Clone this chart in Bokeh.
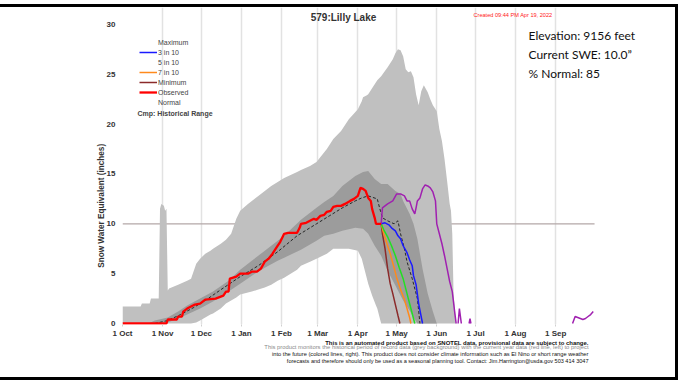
from bokeh.plotting import figure
from bokeh.layouts import column
from bokeh.models import (FixedTicker, Label, Legend, LegendItem, Range1d, Title)
from bokeh.embed import file_html
from bokeh.resources import INLINE

NaN = float("nan")

# ---- axes ----
month_days = [0, 31, 61, 92, 123, 151, 182, 212, 243, 273, 304, 335]
month_labels = ["1 Oct", "1 Nov", "1 Dec", "1 Jan", "1 Feb", "1 Mar", "1 Apr",
                "1 May", "1 Jun", "1 Jul", "1 Aug", "1 Sep"]
y_ticks = [0, 5, 10, 15, 20, 25, 30]
season_days = [0, 365]
current_swe = 10.0

# ---- period of record envelope (light grey) ----
rec_days = [0, 14, 15, 21, 22, 28, 29, 30, 32, 33,
            34, 35, 36, 43, 50, 53, 57, 60, 64, 68,
            70, 76, 80, 84, 88, 91, 97, 100, 105, 110,
            115, 120, 125, 130, 135, 138, 145, 150, 158, 163,
            169, 175, 182, 185, 186, 189, 190, 193, 196, 197,
            200, 205, 209, 211, 213, 215, 217, 219, 221, 223,
            225, 227, 229, 231, 233, 236, 238, 240, 243, 245,
            247, 249, 251, 253, 254, 255, 256, 258]
rec_max = [1.7, 1.7, 2.0, 2.0, 2.5, 2.5, 11.5, 12.0, 11.8, 11.3,
           11.5, 3.3, 3.5, 3.9, 4.3, 4.5, 6.0, 6.5, 7.0, 7.3,
           7.5, 8.0, 8.4, 9.0, 10.5, 11.3, 12.0, 12.3, 12.8, 13.3,
           13.8, 14.2, 14.6, 14.9, 15.2, 15.4, 15.8, 16.2, 17.5, 18.5,
           19.3, 20.5, 21.5, 22.3, 22.7, 22.9, 23.0, 23.6, 24.2, 24.4,
           24.8, 25.7, 26.5, 27.1, 27.5, 27.4, 26.8, 25.5, 25.2, 25.3,
           24.7, 23.0, 21.9, 23.3, 23.9, 23.2, 22.5, 21.9, 21.3, 19.5,
           18.3, 16.5, 14.3, 12.0, 11.3, 9.0, 2.9, 0.0]
rec_min = [0, 0, 0, 0, 0, 0, 0, 0, 0, 0,
           0, 0, 0, 0, 0, 0, 0.1, 0.3, 0.6, 0.9,
           1.0, 1.5, 2.0, 2.3, 2.6, 2.9, 3.1, 3.2, 3.4, 3.6,
           3.9, 4.3, 4.6, 5.0, 5.4, 5.8, 6.2, 6.5, 7.0, 7.5,
           7.5, 7.5, 7.3, 6.5, 6.0, 4.5, 4.0, 2.8, 1.8, 1.5,
           0, 0, 0, 0, 0, 0, 0, 0, 0, 0,
           0, 0, 0, 0, 0, 0, 0, 0, 0, 0,
           0, 0, 0, 0, 0, 0, 0, 0]

# ---- inner percentile band (dark grey) ----
band_days = [20, 25, 35, 43, 50, 60, 70, 82, 91, 100,
             110, 120, 125, 138, 150, 156, 163, 170, 180, 186,
             190, 195, 200, 205, 211, 215, 217, 222, 225, 228,
             232, 236, 240, 243]
band_lo = [0, 0, 0.1, 0.5, 0.9, 1.5, 2.2, 3.2, 4.0, 4.8,
           5.6, 6.3, 6.6, 7.4, 8.3, 8.8, 9.0, 9.3, 9.6, 9.5,
           9.0, 7.8, 6.8, 5.3, 3.8, 2.8, 2.3, 1.3, 0.6, 0,
           0, 0, 0, 0]
band_hi = [0, 0.3, 0.6, 1.2, 1.8, 2.5, 3.2, 4.3, 5.4, 6.3,
           7.3, 8.3, 8.8, 10.4, 11.6, 12.2, 12.8, 13.8, 14.8, 15.2,
           15.3, 14.5, 14.0, 14.0, 13.3, 13.0, 12.3, 11.0, 10.0, 8.5,
           5.5, 3.0, 1.2, 0]

# ---- normal (median) ----
med_days = [25, 35, 45, 55, 65, 75, 91, 105, 120, 135,
            150, 160, 170, 180, 185, 190, 197, 199, 201, 205,
            210, 213, 215, 218, 220, 224, 228, 230]
med_vals = [0, 0.3, 0.9, 1.6, 2.4, 3.3, 4.7, 5.8, 7.2, 8.8,
            10.0, 10.8, 11.6, 12.3, 12.6, 12.8, 12.5, 11.5, 10.6, 10.3,
            10.0, 10.3, 9.0, 7.5, 6.2, 4.5, 2.5, 0]

# ---- observed ----
obs_days = [0, 34, 35, 42, 43, 46, 47, 50, 56, 60,
            64, 72, 78, 80, 82, 83, 88, 91, 97, 100,
            104, 107, 110, 113, 116, 119, 122, 125, 128, 135,
            137, 138, 142, 145, 148, 150, 153, 156, 158, 161,
            163, 166, 169, 172, 176, 179, 182, 184, 186, 188,
            190, 192, 193, 195, 196, 200]
obs_vals = [0, 0, 0.4, 0.4, 0.7, 0.7, 1.2, 1.5, 1.9, 2.0,
            2.4, 2.5, 2.8, 3.2, 3.2, 4.5, 4.7, 5.0, 5.0, 5.2,
            5.2, 5.5, 6.2, 6.5, 7.0, 7.6, 8.2, 9.0, 9.1, 9.1,
            9.6, 10.0, 10.1, 10.3, 10.5, 10.4, 10.8, 10.9, 11.2, 11.3,
            11.7, 11.8, 11.8, 12.0, 12.3, 12.5, 12.8, 13.6, 13.5, 13.3,
            12.6, 12.3, 11.5, 10.6, 10.0, 10.0]

# ---- projections ----
fc3_days = [200, 203, 206, 208, 211, 213, 215, 217, 220, 222, 224, 225, 227, 229, 230.5, 232]
fc3_vals = [10, 10.1, 9.9, 9.6, 9.3, 8.8, 8.5, 7.8, 7.1, 6.4, 5.8, 4.8, 3.9, 2.0, 1.0, 0]
fc5_days = [200, 202, 205, 208, 211, 214, 217, 219, 221, 223, 225, 226]
fc5_vals = [10, 9.4, 8.7, 7.8, 6.8, 5.6, 4.5, 3.5, 2.5, 1.5, 0.5, 0]
fc7_days = [200, 202, 204, 207, 210, 212, 215, 218, 220, 222, 223]
fc7_vals = [10, 9.0, 8.2, 7.0, 5.6, 4.6, 3.4, 2.4, 1.5, 0.6, 0]
fcmin_days = [200, 201, 203, 205, 207, 209, 211, 213, 214.5]
fcmin_vals = [10, 9.0, 7.5, 5.5, 4.0, 3.0, 1.9, 0.8, 0]
fcmax_days = [200, 201, 205, 209, 212, 215, 218, 220, 222, 224,
              226, 227, 228, 230, 232, 234, 236, 238, 240, 242,
              243, 245, 247, 249, 251, 253, 255, 257, 258, NaN,
              259.5, 260.5, 262, NaN, 268, 268.7, 269.4, NaN,
              348, 350, 352, 354, 356, 358, 360, 362, 364]
fcmax_vals = [10, 11.6, 12.0, 12.3, 13.0, 13.0, 12.8, 12.3, 12.3, 11.5,
              11.0, 11.6, 12.3, 12.6, 13.5, 13.9, 13.8, 13.6, 13.2, 12.3,
              10.0, 9.0, 8.0, 6.8, 5.5, 4.2, 3.2, 1.0, 0.0, NaN,
              0.0, 1.5, 0.0, NaN, 0.0, 0.5, 0.0, NaN,
              0.0, 0.7, 0.6, 0.5, 0.4, 0.5, 0.7, 0.9, 1.2]

legend_labels = ["Maximum", "3 in 10", "5 in 10", "7 in 10", "Minimum", "Observed", "Normal"]

footer_lines = [
    "This is an automated product based on SNOTEL data, provisional data are subject to change.",
    "This product monitors the historical period of record data (grey background) with the current year data (red line, left) to project",
    "into the future (colored lines, right). This product does not consider climate information such as El Nino or short range weather",
    "forecasts and therefore should only be used as a seasonal planning tool. Contact: Jim.Harrington@usda.gov 503 414 3047",
]

FONT = "Liberation Sans"

p = figure(width=675, height=370, output_backend="svg", toolbar_location=None,
           x_range=Range1d(0, 427.6), y_range=Range1d(-0.1, 31.7),
           min_border_left=122, min_border_right=0, min_border_top=0, min_border_bottom=53)
p.background_fill_color = "white"
p.border_fill_color = "white"
p.outline_line_color = None

# grid
p.xgrid.ticker = FixedTicker(ticks=month_days)
p.xgrid.grid_line_color = "#e2e2e2"
p.xgrid.grid_line_width = 1.5
p.ygrid.grid_line_color = None

# current SWE reference line
p.line(season_days, [current_swe, current_swe], line_color="#b3a7a7", line_width=1.3)

# bands
p.varea(x=rec_days, y1=rec_min, y2=rec_max, fill_color="#c0c0c0", fill_alpha=1)
p.varea(x=band_days, y1=band_lo, y2=band_hi, fill_color="#9c9c9c", fill_alpha=1)
r_med = p.line(med_days, med_vals, line_color="black", line_dash="3 2", line_width=1, line_alpha=0.75)

r_min = p.line(fcmin_days, fcmin_vals, line_color="#8b2a2a", line_width=1.5)
r_7 = p.line(fc7_days, fc7_vals, line_color="#ff8a1c", line_width=1.5)
r_5 = p.line(fc5_days, fc5_vals, line_color="#22e022", line_width=1.5)
r_3 = p.line(fc3_days, fc3_vals, line_color="#1a1aff", line_width=1.5)
r_max = p.line(fcmax_days, fcmax_vals, line_color="#a020b0", line_width=1.5)
r_obs = p.line(obs_days, obs_vals, line_color="#ff0000", line_width=2.3)

# legend (entries without a visible key in the reference use hidden renderers)
d1 = p.line([0], [0], line_alpha=0)
d2 = p.line([0], [0], line_alpha=0)
d3 = p.line([0], [0], line_alpha=0)
leg_rs = [d1, r_3, d2, r_7, r_min, r_obs, d3]
legend = Legend(items=[LegendItem(label=lab, renderers=[r]) for lab, r in zip(legend_labels, leg_rs)],
                location=(17, 217), orientation="vertical",
                padding=0, margin=0, spacing=0, glyph_width=18, glyph_height=10,
                label_height=10, label_standoff=1,
                label_text_font=FONT, label_text_font_size="7px", label_text_color="#444444",
                background_fill_alpha=0, border_line_color=None)
p.add_layout(legend)

# axes
p.xaxis.ticker = FixedTicker(ticks=month_days)
p.xaxis.major_label_overrides = {d: l for d, l in zip(month_days, month_labels)}
p.yaxis.ticker = FixedTicker(ticks=y_ticks)
for ax in (p.xaxis, p.yaxis):
    ax.axis_line_color = None
    ax.minor_tick_line_color = None
    ax.major_label_text_font = FONT
    ax.major_label_text_font_size = "8px"
    ax.major_label_text_font_style = "bold"
    ax.major_label_text_color = "#333333"
p.xaxis.major_tick_line_color = "#d0d0d0"
p.xaxis.major_tick_out = 2
p.xaxis.major_tick_in = 0
p.xaxis.major_label_standoff = 2
p.yaxis.major_tick_line_color = None
p.yaxis.major_tick_out = 0
p.yaxis.major_tick_in = 0
p.yaxis.major_label_standoff = 7
# trailing no-break spaces shift the centred label down to where the reference draws it
p.yaxis.axis_label = "Snow Water Equivalent (inches)" + "\u00a0" * 35
p.yaxis.axis_label_text_font = FONT
p.yaxis.axis_label_text_font_size = "8.2px"
p.yaxis.axis_label_text_font_style = "bold"
p.yaxis.axis_label_text_color = "#333333"
p.yaxis.axis_label_standoff = -2

def label(x, y, text, size, color="#222222", align="left", style="normal", font=FONT):
    p.add_layout(Label(x=x, y=y, x_units="screen", y_units="screen", text=text,
                       text_font=font, text_font_size=size, text_color=color,
                       text_align=align, text_baseline="middle", text_font_style=style))

label(221, 307, "579:Lilly Lake", "10px", color="#333333", align="center", style="bold")
label(351, 310, "Created 09:44 PM Apr 19, 2022", "5.6px", color="#ff2020")
label(406, 289, "Elevation: 9156 feet", "12px", color="#111111", font="Lato")
label(406, 270, "Current SWE: 10.0\u201d", "12px", color="#111111", font="Lato")
label(406, 251, "% Normal: 85", "12px", color="#111111", font="Lato")
label(15, 211, "Cmp: Historical Range", "7px", color="#444444", style="bold")

# footer notes under the x axis
foot_styles = [("5.95px", "bold", "#111111", -6), ("5.85px", "normal", "#8a8a8a", -1),
               ("5.7px", "normal", "#111111", -1), ("5.55px", "normal", "#111111", -1)]
for txt, (sz, st, col, so) in zip(footer_lines, foot_styles):
    p.add_layout(Title(text=txt, align="right", offset=87, standoff=so,
                       text_font=FONT, text_font_size=sz, text_font_style=st,
                       text_color=col), "below")

layout = column(p, styles={"border-top": "3px solid black", "border-right": "3px solid black",
                           "border-bottom": "3px solid black", "margin-top": "4px"})

open("out.html", "w").write(file_html(layout, INLINE))
